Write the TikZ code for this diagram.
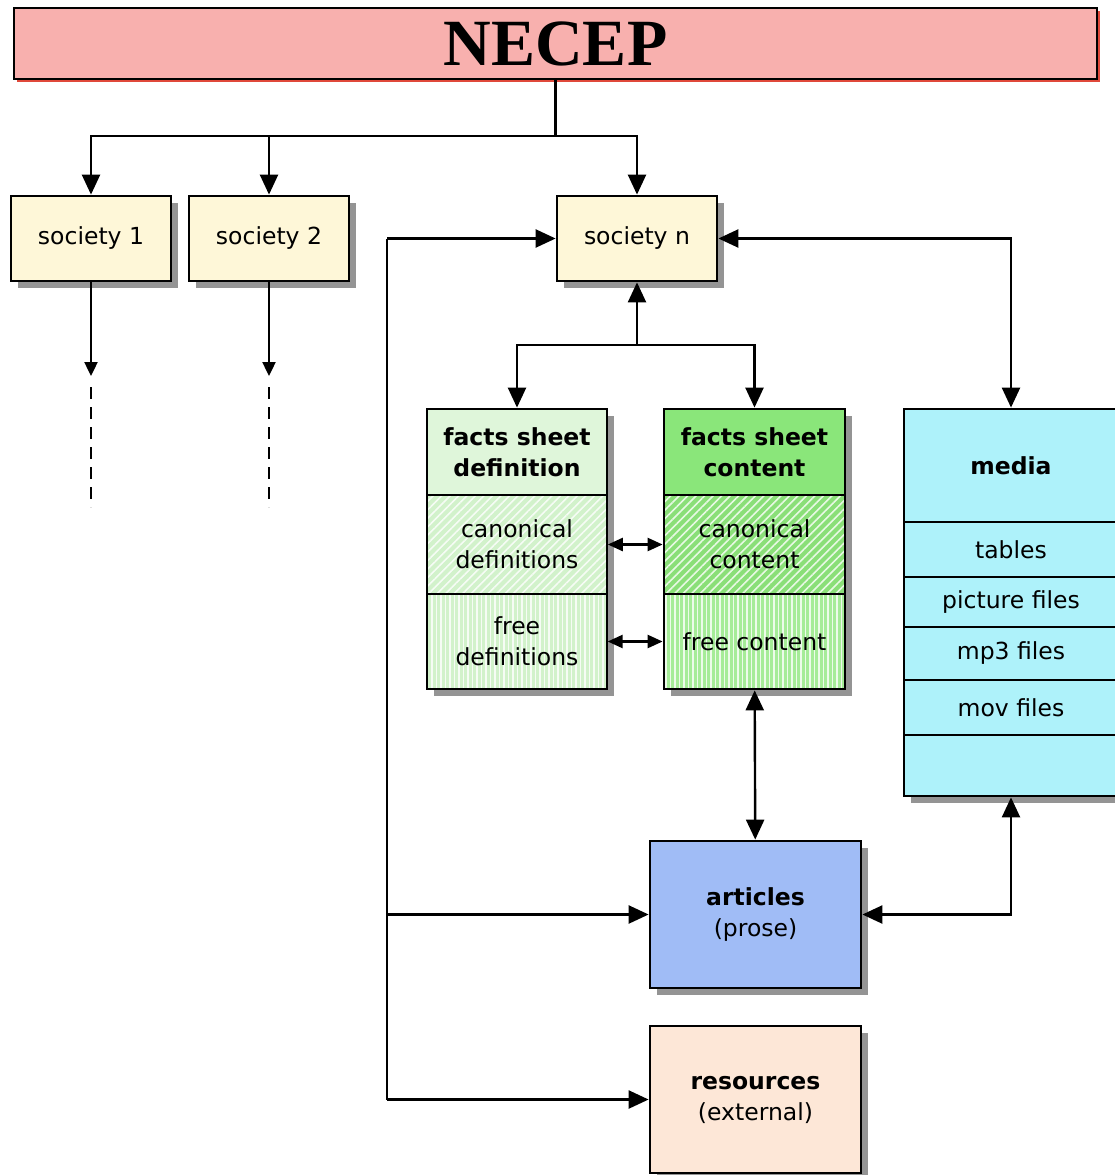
\documentclass[tikz,border=0pt]{standalone}
\usepackage{fontspec}
\setmainfont{DejaVu Sans}
\newfontfamily\titlefont{Liberation Serif}
\usetikzlibrary{arrows.meta,patterns.meta,shadows}

\definecolor{necepfill}{HTML}{F8B0AE}
\definecolor{necepshadow}{HTML}{E0483A}
\definecolor{socfill}{HTML}{FEF7D8}
\definecolor{deffill}{HTML}{DFF6DA}
\definecolor{defcell}{HTML}{D2F2CB}
\definecolor{confill}{HTML}{8AE67A}
\definecolor{concell}{HTML}{8ADF78}
\definecolor{confree}{HTML}{A6EC98}
\definecolor{artfill}{HTML}{A0BCF6}
\definecolor{mediafill}{HTML}{AEF2FA}
\definecolor{resfill}{HTML}{FDE7D7}

\begin{document}
\begin{tikzpicture}[
    x=1pt, y=-1pt,
    txt/.style={font=\fontsize{23.5}{31}\selectfont, align=center, inner sep=0pt},
    boxshadow/.style={drop shadow={shadow xshift=7pt, shadow yshift=-7pt, fill=black!42, opacity=1}},
    box/.style={txt, boxshadow, draw=black, line width=2.8pt},
    titlebox/.style={draw=black, line width=2.8pt, fill=necepfill,
        drop shadow={shadow xshift=3pt, shadow yshift=-3pt, fill=necepshadow, opacity=1},
        minimum width=1083pt, minimum height=71pt,
        font=\titlefont\bfseries\fontsize{66}{66}\selectfont},
    society/.style={box, fill=socfill, minimum width=160pt, minimum height=85pt},
    diagcell/.style={box, preaction={fill=#1}, pattern={Lines[angle=45, distance=6pt, line width=1.6pt]}, pattern color=white!80!#1},
    vertcell/.style={box, preaction={fill=#1}, pattern={Lines[angle=90, distance=4.5pt, line width=1.3pt]}, pattern color=white!80!#1},
    mediacell/.style={box, fill=mediafill, minimum width=214pt},
    arrow/.style={-{Triangle[length=20pt, width=18pt]}, line width=2.4pt},
    dblarrow/.style={{Triangle[length=20pt, width=18pt]}-{Triangle[length=20pt, width=18pt]}, line width=2.4pt},
    smallarrow/.style={-{Triangle[length=14pt, width=13pt]}, line width=2.4pt},
    smalldbl/.style={{Triangle[length=15pt, width=13pt]}-{Triangle[length=15pt, width=13pt]}, line width=2.4pt},
    dashline/.style={line width=2.4pt, dash pattern=on 12pt off 8pt}
]
\useasboundingbox (0,0) rectangle (1114,1175);

\node[titlebox] (necep) at (555.5,43.5) {NECEP};

\node[society] (soc1) at (91,238.5) {society 1};
\node[society] (soc2) at (269,238.5) {society 2};
\node[society] (socn) at (637,238.5) {society n};

\node[box, fill=deffill, minimum width=180pt, minimum height=86pt] (defhead) at (517,452) {\bfseries facts sheet\\\bfseries definition};
\node[diagcell=defcell, minimum width=180pt, minimum height=99pt] (candef) at (517,544.5) {canonical\\definitions};
\node[vertcell=defcell, minimum width=180pt, minimum height=95pt] (freedef) at (517,641.5) {free\\definitions};

\node[box, fill=confill, minimum width=181pt, minimum height=86pt] (conhead) at (754.5,452) {\bfseries facts sheet\\\bfseries content};
\node[diagcell=concell, minimum width=181pt, minimum height=99pt] (cancon) at (754.5,544.5) {canonical\\content};
\node[vertcell=confree, minimum width=181pt, minimum height=95pt] (freecon) at (754.5,641.5) {free content};

\node[mediacell, minimum height=113pt] (media) at (1011,465.5) {\bfseries media};
\node[mediacell, minimum height=55pt] (tables) at (1011,549.5) {tables};
\node[mediacell, minimum height=50pt] (pics) at (1011,602) {picture files};
\node[mediacell, minimum height=53pt] (mp3) at (1011,653.5) {mp3 files};
\node[mediacell, minimum height=55pt] (mov) at (1011,707.5) {mov files};
\node[mediacell, minimum height=61pt] (medend) at (1011,765.5) {};

\node[box, fill=artfill, minimum width=211pt, minimum height=147pt] (art) at (755.5,914.5) {\bfseries articles\\(prose)};
\node[box, fill=resfill, minimum width=211pt, minimum height=147pt] (res) at (755.5,1099.5) {\bfseries resources\\(external)};

\coordinate (hub) at (555.5,136);
\coordinate (s1end) at (91,376);
\coordinate (s2end) at (269,376);
\coordinate (d1a) at (91,387);
\coordinate (d1b) at (91,507);
\coordinate (d2a) at (269,387);
\coordinate (d2b) at (269,507);
\coordinate (fork) at (637,345);
\coordinate (bustop) at (387,238.5);
\coordinate (busart) at (387,914.5);
\coordinate (busres) at (387,1099.5);

\draw[line width=2.4pt] (necep) -- (hub);
\draw[arrow] (hub) -| (soc1);
\draw[arrow] (hub) -| (soc2);
\draw[arrow] (hub) -| (socn);

\draw[smallarrow] (soc1) -- (s1end);
\draw[smallarrow] (soc2) -- (s2end);
\draw[dashline] (d1a) -- (d1b);
\draw[dashline] (d2a) -- (d2b);

\draw[arrow] (fork) -- (socn);
\draw[arrow] (fork) -| (defhead);
\draw[arrow] (fork) -| (conhead);

\draw[dblarrow] (socn) -| (media);

\draw[smalldbl] (candef) -- (cancon);
\draw[smalldbl] (freedef) -- (freecon);

\draw[dblarrow] (freecon) -- (art);
\draw[dblarrow] (medend) |- (art);

\draw[line width=2.4pt] (bustop) -- (busres);
\draw[arrow] (bustop) -- (socn);
\draw[arrow] (busart) -- (art);
\draw[arrow] (busres) -- (res);

\end{tikzpicture}
\end{document}
